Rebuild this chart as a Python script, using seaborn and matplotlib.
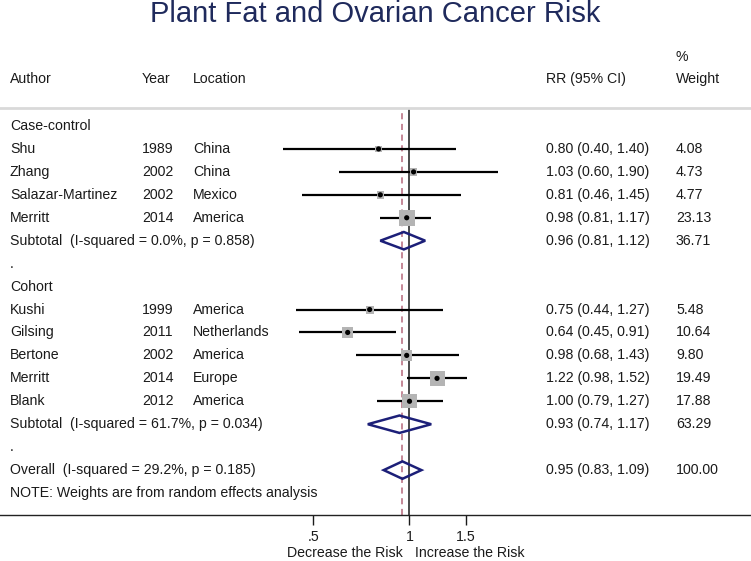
import numpy as np
import pandas as pd
import matplotlib
matplotlib.use("Agg")
import matplotlib.pyplot as plt
import matplotlib.transforms as mtrans
from matplotlib.patches import Polygon
import seaborn as sns

# ---- data
authors = ["Shu", "Zhang", "Salazar-Martinez", "Merritt",
           "Kushi", "Gilsing", "Bertone", "Merritt", "Blank"]
years = [1989, 2002, 2002, 2014, 1999, 2011, 2002, 2014, 2012]
locations = ["China", "China", "Mexico", "America",
             "America", "Netherlands", "America", "Europe", "America"]
groups = ["Case-control"] * 4 + ["Cohort"] * 5
rr = [0.80, 1.03, 0.81, 0.98, 0.75, 0.64, 0.98, 1.22, 1.00]
ci_lo = [0.40, 0.60, 0.46, 0.81, 0.44, 0.45, 0.68, 0.98, 0.79]
ci_hi = [1.40, 1.90, 1.45, 1.17, 1.27, 0.91, 1.43, 1.52, 1.27]
weights = [4.08, 4.73, 4.77, 23.13, 5.48, 10.64, 9.80, 19.49, 17.88]

sub_groups = ["Case-control", "Cohort"]
sub_labels = ["Subtotal  (I-squared = 0.0%, p = 0.858)",
              "Subtotal  (I-squared = 61.7%, p = 0.034)"]
sub_rr = [0.96, 0.93]
sub_lo = [0.81, 0.74]
sub_hi = [1.12, 1.17]
sub_w = [36.71, 63.29]

overall_label = "Overall  (I-squared = 29.2%, p = 0.185)"
overall_rr, overall_lo, overall_hi, overall_w = 0.95, 0.83, 1.09, 100.00

title = "Plant Fat and Ovarian Cancer Risk"
note = "NOTE: Weights are from random effects analysis"

###### Build row layout
rows = []   # (kind, label, year, loc, rr, lo, hi, w)
for g, (sl, srr, slo, shi, sw) in zip(sub_groups, zip(sub_labels, sub_rr, sub_lo, sub_hi, sub_w)):
    rows.append(("head", g, "", "", np.nan, np.nan, np.nan, np.nan))
    for a, y, l, r, lo, hi, w, gg in zip(authors, years, locations, rr, ci_lo, ci_hi, weights, groups):
        if gg == g:
            rows.append(("study", a, str(y), l, r, lo, hi, w))
    rows.append(("diamond", sl, "", "", srr, slo, shi, sw))
    rows.append(("dot", ".", "", "", np.nan, np.nan, np.nan, np.nan))
rows.append(("diamond", overall_label, "", "", overall_rr, overall_lo, overall_hi, overall_w))
rows.append(("note", note, "", "", np.nan, np.nan, np.nan, np.nan))

df = pd.DataFrame(rows, columns=["kind", "label", "year", "loc", "rr", "lo", "hi", "w"])
df["row"] = np.arange(len(df))
studies = df[df.kind == "study"]
diamonds = df[df.kind == "diamond"]

###### Plotting
sns.set_style("white")
plt.rcParams["font.family"] = ["Liberation Sans", "DejaVu Sans"]
txt = "#1a1a1a"
fs = 10.2

W, H = 751, 561
fig = plt.figure(figsize=(W / 100, H / 100), dpi=100)
top_px, bot_px = 108, 515
ax = fig.add_axes([0, 1 - bot_px / H, 1, (bot_px - top_px) / H])

# log x axis, 1 at pixel 409.5, 138.5 px per ln unit
ax.set_xscale("log")
ax.set_xlim(np.exp(-409.5 / 138.5), np.exp((W - 409.5) / 138.5))
row0_px, row_step = 126, 22.94
ax.set_ylim((bot_px - row0_px) / row_step, (top_px - row0_px) / row_step)

ax.axvline(1, color="#3a3a3a", lw=1.3, zorder=1)
ax.axvline(overall_rr, color="#b5677a", lw=1.1, ls=(0, (4, 3)), zorder=1)

# confidence intervals
ax.hlines(studies.row, studies.lo, studies.hi, color="black", lw=1.6, zorder=2)
# weight squares (area ~ weight)
k = 6.0
sns.scatterplot(data=studies, x="rr", y="row", size="w", marker="s",
                sizes=(k * studies.w.min(), k * studies.w.max()),
                size_norm=(studies.w.min(), studies.w.max()),
                color="#b4b4b4", edgecolor="none", legend=False, ax=ax, zorder=3)
sns.scatterplot(data=studies, x="rr", y="row", marker="o", s=14,
                color="black", edgecolor="none", legend=False, ax=ax, zorder=4)

# pooled diamonds
hh = 0.38
for _, d in diamonds.iterrows():
    ax.add_patch(Polygon([(d.lo, d.row), (d.rr, d.row - hh), (d.hi, d.row), (d.rr, d.row + hh)],
                         closed=True, fill=False, edgecolor="#1c1f78", lw=1.8, zorder=3))

# spines and ticks
for s in ["left", "right"]:
    ax.spines[s].set_visible(False)
ax.spines["top"].set_color("#d9d9d9")
ax.spines["top"].set_linewidth(2)
ax.spines["bottom"].set_color("#222222")
ax.spines["bottom"].set_linewidth(1)
ax.set_xticks([0.5, 1, 1.5])
ax.set_xticklabels([".5", "1", "1.5"])
ax.xaxis.set_minor_locator(matplotlib.ticker.NullLocator())
ax.set_yticks([])
ax.tick_params(axis="x", bottom=True, direction="out", length=7, width=1, pad=4,
               labelsize=fs, colors=txt)
ax.set_xlabel("")
ax.set_ylabel("")

# table text
tr = mtrans.blended_transform_factory(ax.transAxes, ax.transData)
col_author, col_year, col_loc, col_rr, col_w = 10 / W, 142 / W, 193 / W, 546 / W, 676 / W
hdr_row = (79 - row0_px) / row_step
pct_row = (57 - row0_px) / row_step
for x, s in [(col_author, "Author"), (col_year, "Year"), (col_loc, "Location"),
             (col_rr, "RR (95% CI)"), (col_w, "Weight")]:
    ax.text(x, hdr_row, s, transform=tr, va="center", ha="left", fontsize=fs, color=txt, clip_on=False)
ax.text(col_w, pct_row, "%", transform=tr, va="center", ha="left", fontsize=fs, color=txt, clip_on=False)

for _, r in df.iterrows():
    ax.text(col_author, r.row, r.label, transform=tr, va="center", ha="left", fontsize=fs, color=txt)
    if r.kind == "study":
        ax.text(col_year, r.row, r.year, transform=tr, va="center", ha="left", fontsize=fs, color=txt)
        ax.text(col_loc, r.row, r["loc"], transform=tr, va="center", ha="left", fontsize=fs, color=txt)
    if r.kind in ("study", "diamond"):
        ax.text(col_rr, r.row, f"{r.rr:.2f} ({r.lo:.2f}, {r.hi:.2f})", transform=tr,
                va="center", ha="left", fontsize=fs, color=txt)
        ax.text(col_w, r.row, f"{r.w:.2f}", transform=tr, va="center", ha="left", fontsize=fs, color=txt)

# direction labels under the axis
trx = mtrans.blended_transform_factory(ax.transData, ax.transAxes)
lab_y = (bot_px - 553) / (bot_px - top_px)
ax.text(1, lab_y, "Decrease the Risk", ha="right", va="center", fontsize=fs, color=txt, clip_on=False,
        transform=mtrans.offset_copy(trx, fig=fig, x=-7, y=0, units="dots"))
ax.text(1, lab_y, "Increase the Risk", ha="left", va="center", fontsize=fs, color=txt, clip_on=False,
        transform=mtrans.offset_copy(trx, fig=fig, x=6, y=0, units="dots"))

fig.text(0.5, 1 - 14 / H, title, ha="center", va="center", fontsize=21, color="#1f2a5c")

fig.savefig("out.png", dpi=100)
